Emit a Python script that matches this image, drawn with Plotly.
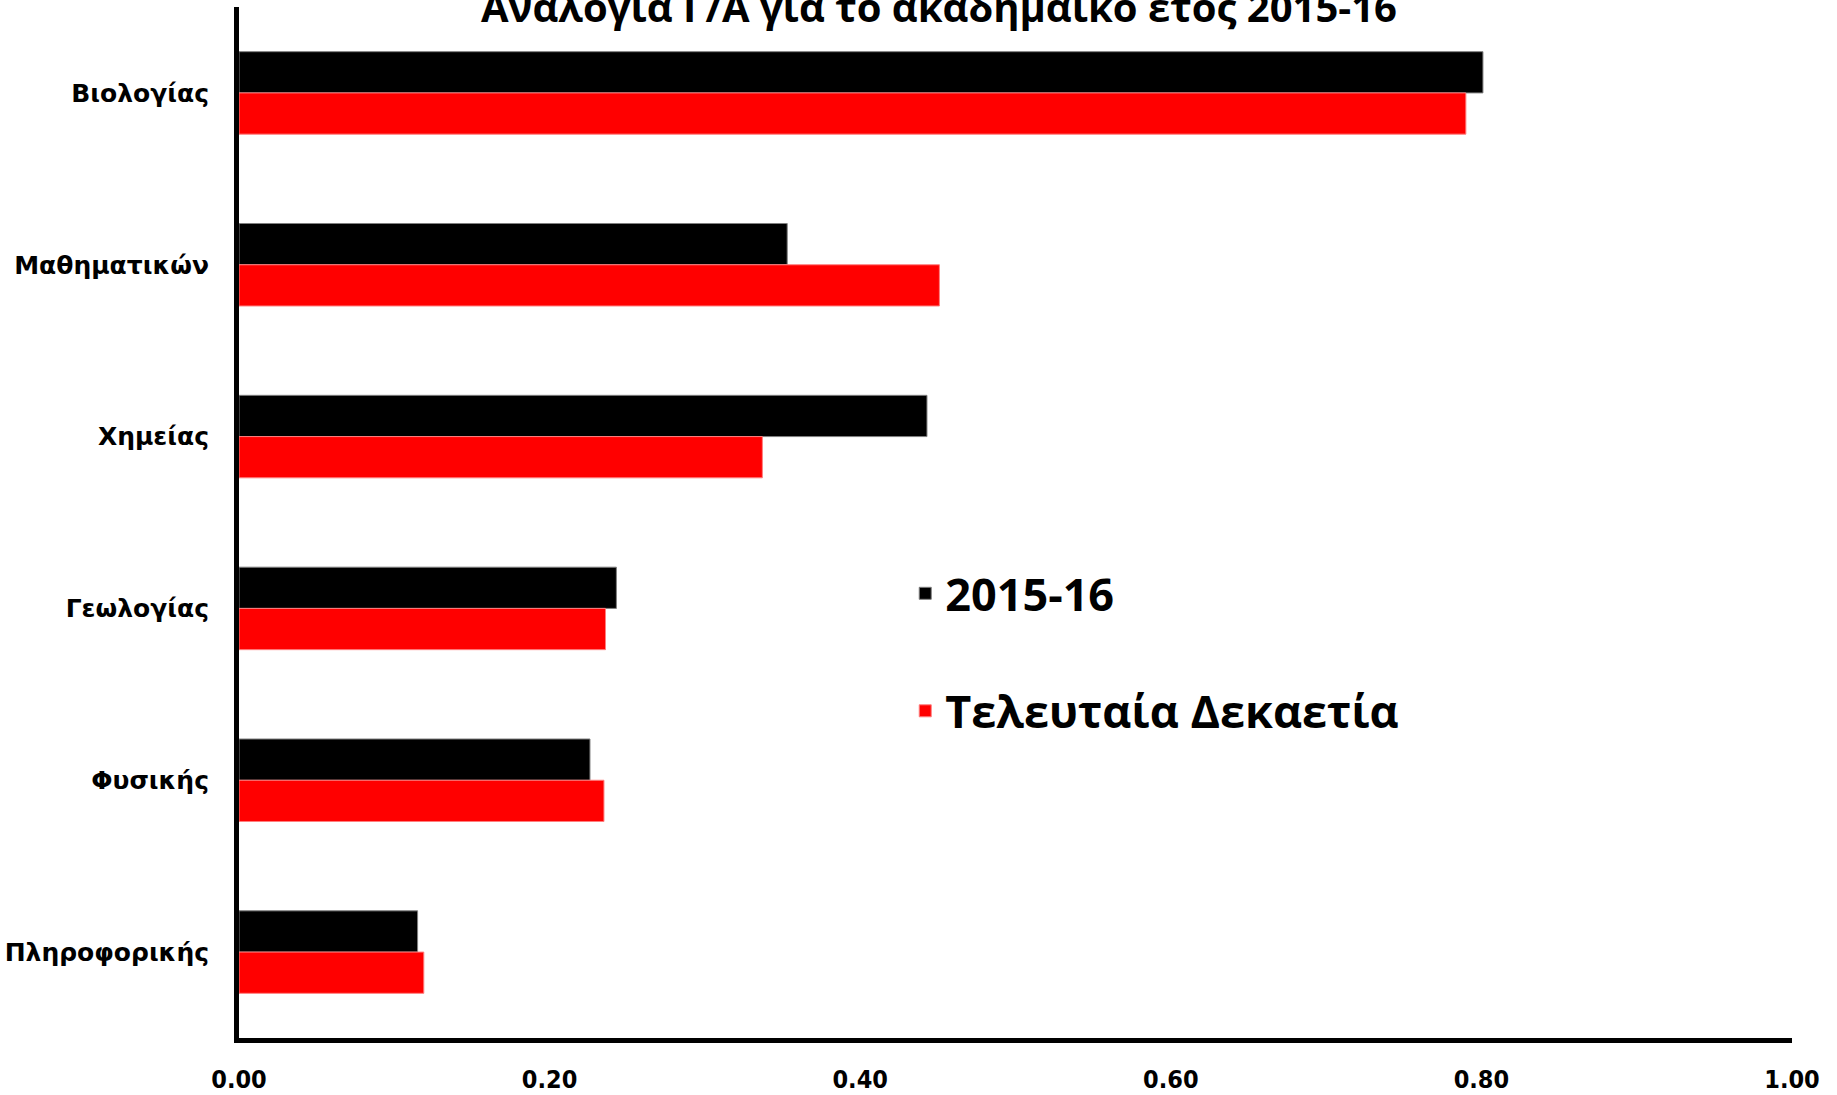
import plotly.graph_objects as go

categories = ["Βιολογίας", "Μαθηματικών", "Χημείας", "Γεωλογίας", "Φυσικής", "Πληροφορικής"]
values_2015_16 = [0.801, 0.353, 0.443, 0.243, 0.226, 0.115]
values_decade = [0.790, 0.451, 0.337, 0.236, 0.235, 0.119]
series_names = ["2015-16", "Τελευταία Δεκαετία"]
x_ticks = [0.0, 0.2, 0.4, 0.6, 0.8, 1.0]
x_tick_labels = ["0.00", "0.20", "0.40", "0.60", "0.80", "1.00"]
title_text = "Αναλογία Γ/Α για το ακαδημαϊκό έτος 2015-16"

fig = go.Figure()
fig.add_trace(go.Bar(
    y=categories, x=values_2015_16, orientation="h", name=series_names[0],
    marker=dict(color="#000000", line=dict(color="#7f7f7f", width=1)),
    legendgroup="a",
))
fig.add_trace(go.Bar(
    y=categories, x=values_decade, orientation="h", name=series_names[1],
    marker=dict(color="#ff0000", line=dict(color="#ff7f7f", width=1)),
    legendgroup="b",
))

fig.update_layout(
    width=1837, height=1095,
    margin=dict(l=239, r=45, t=7, b=57, autoexpand=False),
    paper_bgcolor="white", plot_bgcolor="white",
    barmode="group", bargap=0.52, bargroupgap=0,
    showlegend=True,
    legend=dict(
        x=0.429, y=0.466, xanchor="left", yanchor="top",
        font=dict(family="Open Sans", size=45, color="black", weight="bold"),
        traceorder="grouped", tracegroupgap=56, bgcolor="rgba(0,0,0,0)",
    ),
    xaxis=dict(
        range=[0, 1], tickvals=x_ticks, ticktext=x_tick_labels,
        showgrid=False, zeroline=False, showline=True, linecolor="black", linewidth=5,
        ticks="", ticklabelstandoff=15,
        tickfont=dict(family="DejaVu Sans Condensed", size=25, color="black", weight="bold"),
    ),
    yaxis=dict(
        autorange="reversed", showgrid=False, zeroline=False,
        showline=True, linecolor="black", linewidth=5, ticks="", ticklabelstandoff=20,
        tickfont=dict(family="DejaVu Sans", size=25, color="black", weight="bold"),
    ),
    annotations=[dict(
        text=title_text, xref="paper", yref="paper", x=0.451, y=1,
        xanchor="center", yanchor="middle", yshift=1, showarrow=False,
        font=dict(family="Open Sans", size=40, color="black", weight="bold"),
    )],
)

fig.write_html(
    "out.html",
    config={"displayModeBar": False},
    post_script="document.body.style.margin='0';document.body.style.overflow='hidden';",
)
